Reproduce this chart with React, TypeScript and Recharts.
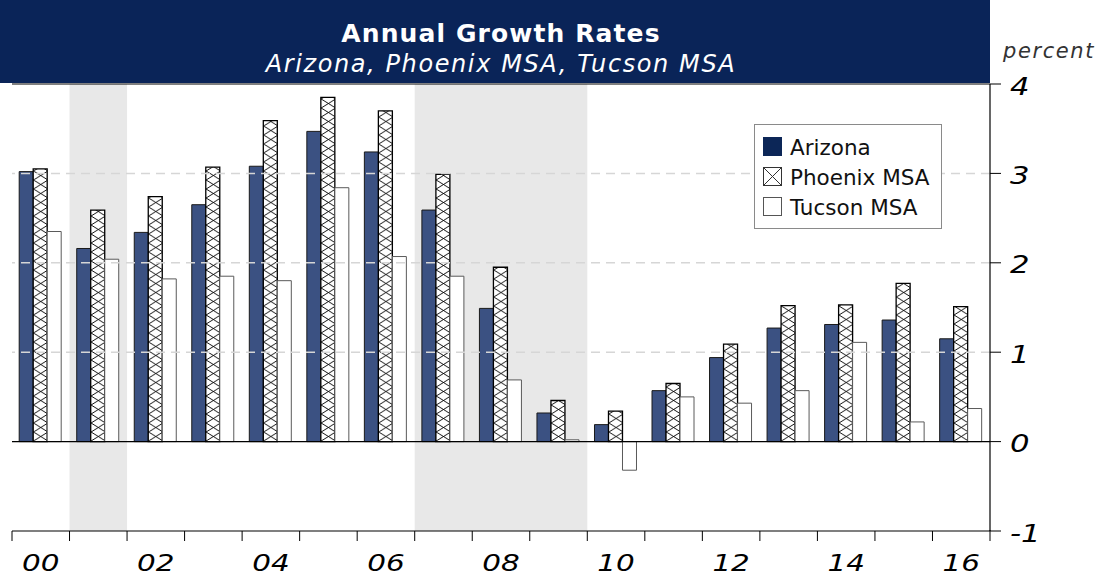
import React from 'react';
import {
  BarChart,
  Bar,
  XAxis,
  YAxis,
  Legend,
  ReferenceArea,
  ReferenceLine,
} from 'recharts';

// categories (two-digit years 2000-2016)
const years = ['00', '01', '02', '03', '04', '05', '06', '07', '08', '09', '10', '11', '12', '13', '14', '15', '16'];

// annual growth, percent
const arizona = [3.02, 2.16, 2.34, 2.65, 3.08, 3.47, 3.24, 2.59, 1.49, 0.32, 0.19, 0.57, 0.94, 1.27, 1.31, 1.36, 1.15];
const phoenix = [3.05, 2.59, 2.74, 3.07, 3.59, 3.85, 3.7, 2.99, 1.95, 0.46, 0.34, 0.65, 1.09, 1.52, 1.53, 1.77, 1.51];
const tucson = [2.35, 2.04, 1.82, 1.85, 1.8, 2.84, 2.07, 1.85, 0.69, 0.02, -0.32, 0.5, 0.43, 0.57, 1.11, 0.22, 0.37];

const yTicks = [-1, 0, 1, 2, 3, 4];
const gridValues = [1, 2, 3];
const recessions = [
  ['01', '01'],
  ['07', '09'],
];

const seriesNames = ['Arizona', 'Phoenix MSA', 'Tucson MSA'];

const data = years.map((year, i) => ({
  year,
  arizona: arizona[i],
  phoenix: phoenix[i],
  tucson: tucson[i],
}));

const W = 1114;
const H = 581;
const PLOT_LEFT = 12;
const PLOT_RIGHT = 990;
const BAND = (PLOT_RIGHT - PLOT_LEFT) / years.length;
const HALF = BAND / 2;
const FONT = '"DejaVu Sans", Verdana, sans-serif';
const STRETCH = 1.28; // reference digits are wider than DejaVu's

const XTick = (props: any) => {
  const { x, y, payload } = props;
  const i = years.indexOf(payload.value);
  const last = i === years.length - 1;
  return (
    <g>
      <line x1={x - HALF} x2={x - HALF} y1={y} y2={y + 10} stroke="#000" />
      {last && <line x1={x + HALF} x2={x + HALF} y1={y - 1} y2={y + 10} stroke="#000" />}
      {i % 2 === 0 && (
        <text
          transform={`translate(${x},${y + 40}) scale(${STRETCH},1)`}
          textAnchor="middle"
          fontSize={23}
          fontStyle="italic"
          fontFamily={FONT}
          fill="#000"
        >
          {payload.value}
        </text>
      )}
    </g>
  );
};

const YTick = (props: any) => {
  const { x, y, payload } = props;
  return (
    <text
      transform={`translate(${x},${y + 2}) scale(${STRETCH},1)`}
      dy="0.355em"
      textAnchor="start"
      fontSize={24}
      fontStyle="italic"
      fontFamily={FONT}
      fill="#000"
    >
      {payload.value}
    </text>
  );
};

const LegendBox = () => (
  <svg width={188} height={105} style={{ display: 'block' }}>
    <rect x={0.5} y={0.5} width={187} height={104} fill="#fff" stroke="#8a8a8a" />
    <rect x={9} y={13} width={19} height={19} fill="#0c2657" />
    <rect x={9.5} y={43.5} width={18} height={18} fill="#fff" stroke="#333" />
    <path d="M9.5,43.5 L27.5,61.5 M27.5,43.5 L9.5,61.5" stroke="#333" strokeWidth={1} />
    <rect x={9.5} y={73.5} width={18} height={18} fill="#fff" stroke="#555" />
    {seriesNames.map((name, i) => (
      <text key={name} x={36} y={31 + i * 30} fontSize={21.5} fontFamily={FONT} fill="#111">
        {name}
      </text>
    ))}
  </svg>
);

export default function App() {
  return (
    <div style={{ position: 'absolute', left: 0, top: 0, width: W, height: H, background: '#fff', fontFamily: FONT }}>
      <BarChart
        width={W}
        height={H}
        data={data}
        margin={{ top: 84, right: 0, bottom: 0, left: PLOT_LEFT }}
        barCategoryGap="12.5%"
        barGap={0}
      >
        <defs>
          <pattern
            id="xhatch"
            patternUnits="userSpaceOnUse"
            x={PLOT_LEFT + BAND * 0.125 + BAND / 4}
            y={0}
            width={BAND / 4}
            height={9}
          >
            <rect width={BAND / 4} height={9} fill="#fff" />
            <path
              d={`M0,0 L${BAND / 4},9 M${BAND / 4},0 L0,9`}
              stroke="#000"
              strokeWidth={0.9}
            />
          </pattern>
        </defs>
        <XAxis
          dataKey="year"
          interval={0}
          tickLine={false}
          tickSize={0}
          tickMargin={0}
          height={50}
          axisLine={{ stroke: '#000', strokeWidth: 1.2 }}
          tick={<XTick />}
        />
        <YAxis
          yAxisId="l"
          orientation="left"
          width={0}
          domain={[-1, 4]}
          ticks={yTicks}
          tick={false}
          tickLine={false}
          axisLine={{ stroke: '#000', strokeWidth: 1.2 }}
        />
        <YAxis
          yAxisId="r"
          orientation="right"
          width={124}
          domain={[-1, 4]}
          ticks={yTicks}
          interval={0}
          tickSize={11}
          tickMargin={9}
          axisLine={{ stroke: '#000', strokeWidth: 1.2 }}
          tickLine={{ stroke: '#000' }}
          tick={<YTick />}
        />
        {recessions.map(([a, b]) => (
          <ReferenceArea key={a} yAxisId="r" x1={a} x2={b} fill="#e8e8e8" fillOpacity={1} stroke="none" />
        ))}
        {gridValues.map((v) => (
          <ReferenceLine key={v} yAxisId="r" y={v} stroke="#d6d6d6" strokeWidth={1.5} strokeDasharray="9 6" />
        ))}
        <ReferenceLine yAxisId="r" y={4} stroke="#000" strokeWidth={1.2} />
        <Bar
          yAxisId="r"
          dataKey="arizona"
          name="Arizona"
          fill="#3b5182"
          stroke="#1a1a1a"
          strokeWidth={1}
          isAnimationActive={false}
        />
        <Bar
          yAxisId="r"
          dataKey="phoenix"
          name="Phoenix MSA"
          fill="url(#xhatch)"
          stroke="#000"
          strokeWidth={1.3}
          isAnimationActive={false}
        />
        <Bar
          yAxisId="r"
          dataKey="tucson"
          name="Tucson MSA"
          fill="#fff"
          stroke="#5a5a5a"
          strokeWidth={1}
          isAnimationActive={false}
        />
        <ReferenceLine yAxisId="r" y={0} stroke="#000" strokeWidth={1.2} />
        <Legend
          layout="horizontal"
          verticalAlign="middle"
          align="center"
          content={() => <LegendBox />}
          wrapperStyle={{ position: 'absolute', left: 754, top: 124, width: 188, height: 105 }}
        />
      </BarChart>

      {/* title banner */}
      <div
        style={{
          position: 'absolute',
          left: 0,
          top: 0,
          width: PLOT_RIGHT,
          height: 83,
          background: '#0a2458',
        }}
      />
      <div
        style={{
          position: 'absolute',
          left: 0,
          top: 19,
          width: 1002,
          textAlign: 'center',
          color: '#fff',
          lineHeight: '30px',
        }}
      >
        <div style={{ fontWeight: 'bold', fontSize: 25, letterSpacing: 1.1 }}>Annual Growth Rates</div>
        <div style={{ fontStyle: 'italic', fontSize: 24, letterSpacing: 1.6 }}>Arizona, Phoenix MSA, Tucson MSA</div>
      </div>
      <div
        style={{
          position: 'absolute',
          left: 1003,
          top: 39,
          fontSize: 21,
          lineHeight: '24px',
          fontStyle: 'italic',
          letterSpacing: 1.6,
          color: '#333',
        }}
      >
        percent
      </div>
    </div>
  );
}
